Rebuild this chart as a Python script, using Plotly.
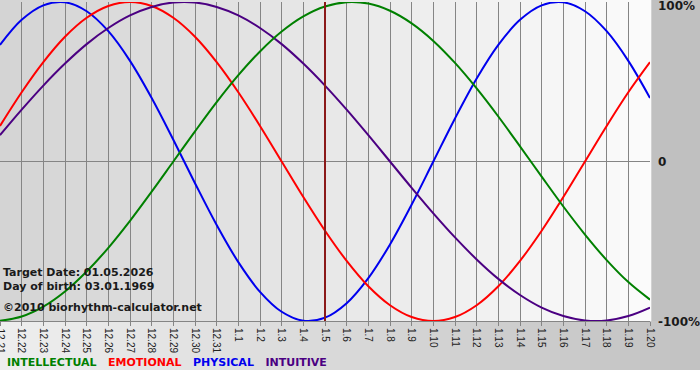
import plotly.graph_objects as go

# ---- data ----
days = ["12.21", "12.22", "12.23", "12.24", "12.25", "12.26", "12.27", "12.28", "12.29", "12.30", "12.31",
        "1.1", "1.2", "1.3", "1.4", "1.5", "1.6", "1.7", "1.8", "1.9", "1.10",
        "1.11", "1.12", "1.13", "1.14", "1.15", "1.16", "1.17", "1.18", "1.19", "1.20"]

physical = [0.731, 0.888, 0.979, 0.998, 0.942, 0.817, 0.631, 0.398, 0.136, -0.136, -0.398,
            -0.631, -0.817, -0.942, -0.998, -0.979, -0.888, -0.731, -0.520, -0.270, 0.000,
            0.270, 0.520, 0.731, 0.888, 0.979, 0.998, 0.942, 0.817, 0.631, 0.398]
emotional = [0.223, 0.434, 0.623, 0.782, 0.901, 0.975, 1.000, 0.975, 0.901, 0.782, 0.623,
             0.434, 0.223, 0.000, -0.223, -0.434, -0.623, -0.782, -0.901, -0.975, -1.000,
             -0.975, -0.901, -0.782, -0.623, -0.434, -0.223, 0.000, 0.223, 0.434, 0.623]
intellectual = [-0.999, -0.972, -0.910, -0.815, -0.690, -0.541, -0.372, -0.189, 0.000, 0.189, 0.372,
                0.541, 0.690, 0.815, 0.910, 0.972, 0.999, 0.990, 0.945, 0.866, 0.756,
                0.618, 0.458, 0.282, 0.095, -0.095, -0.282, -0.458, -0.618, -0.756, -0.866]
intuitive = [0.165, 0.325, 0.476, 0.614, 0.736, 0.837, 0.916, 0.969, 0.997, 0.997, 0.969,
             0.916, 0.837, 0.736, 0.614, 0.476, 0.325, 0.165, 0.000, -0.165, -0.325,
             -0.476, -0.614, -0.736, -0.837, -0.916, -0.969, -0.997, -0.997, -0.969, -0.916]

series_names = ["INTELLECTUAL", "EMOTIONAL", "PHYSICAL", "INTUITIVE"]
target_day = "1.5"
target_text = "Target Date: 01.05.2026"
birth_text = "Day of birth: 03.01.1969"
copyright_text = "©2010 biorhythm-calculator.net"
y_tick_vals = [1, 0, -1]
y_tick_text = ["100%", "0", "-100%"]

# ---- styles ----
colors = {"INTELLECTUAL": "#008000", "EMOTIONAL": "#ff0000",
          "PHYSICAL": "#0000ee", "INTUITIVE": "#4b0082"}
values = {"INTELLECTUAL": intellectual, "EMOTIONAL": emotional,
          "PHYSICAL": physical, "INTUITIVE": intuitive}
draw_order = ["PHYSICAL", "EMOTIONAL", "INTUITIVE", "INTELLECTUAL"]

W, H = 700, 380
ML, MR, MT, MB = 0, 50, 2, 59
PW, PH = W - ML - MR, H - MT - MB

def lerp_hex(c1, c2, t):
    a = [int(c1[i:i + 2], 16) for i in (1, 3, 5)]
    b = [int(c2[i:i + 2], 16) for i in (1, 3, 5)]
    return "#" + "".join(f"{round(a[k] + (b[k] - a[k]) * t):02x}" for k in range(3))

xidx = list(range(len(days)))

fig = go.Figure()
for name in draw_order:
    fig.add_trace(go.Scatter(
        x=xidx, y=values[name], mode="lines", name=name,
        line=dict(color=colors[name], width=2, shape="spline", smoothing=1.0),
        hoverinfo="skip"))

shapes = []
# right margin gray
shapes.append(dict(type="rect", xref="paper", yref="paper", x0=1, x1=W / PW, y0=0, y1=1 + MT / PH,
                   fillcolor="#c0c0c0", line_width=0, layer="below"))
# plot area gradient
n = 65
for k in range(n):
    shapes.append(dict(type="rect", xref="paper", yref="paper",
                       x0=k / n, x1=(k + 1) / n + 0.002, y0=0, y1=1 + MT / PH,
                       fillcolor=lerp_hex("#d4d4d4", "#fbfbfb", k / (n - 1)),
                       line_width=0, layer="below"))
# bottom band gradient
nb = 70
x_end = W / PW
band_bottom = -(370 - (H - MB)) / PH
for k in range(nb):
    shapes.append(dict(type="rect", xref="paper", yref="paper",
                       x0=x_end * k / nb, x1=x_end * (k + 1) / nb + 0.002, y0=band_bottom, y1=0,
                       fillcolor=lerp_hex("#eeeeee", "#c2c2c2", k / (nb - 1)),
                       line_width=0, layer="below"))
# target date line
ti = days.index(target_day)
shapes.append(dict(type="line", xref="x", yref="paper", x0=ti, x1=ti, y0=0, y1=1,
                   line=dict(color="#8b1a1a", width=2), layer="above"))

annotations = []
info_font = dict(family="DejaVu Sans", size=11, color="#1a1a1a")
for txt, py in [(target_text, (H - MB - 272) / PH), (birth_text, (H - MB - 286) / PH),
                (copyright_text, (H - MB - 307) / PH)]:
    annotations.append(dict(xref="paper", yref="paper", x=0, y=py, xanchor="left", yanchor="middle",
                            xshift=1, text=f"<b>{txt}</b>", showarrow=False, font=info_font))

for v, t in zip(y_tick_vals, y_tick_text):
    py = (v + 1) / 2
    shift = {1: -4, 0: 0, -1: -1}[v]
    annotations.append(dict(xref="paper", yref="paper", x=1, y=py, xanchor="left", yanchor="middle",
                            xshift=6, yshift=shift, text=f"<b>{t}</b>", showarrow=False,
                            font=dict(family="DejaVu Sans", size=12, color="#1a1a1a")))

# first day label, clipped at the left edge as in the reference
annotations.append(dict(xref="x", yref="paper", x=0, y=0, xanchor="center", yanchor="top",
                        yshift=-5, textangle=90, text=days[0], showarrow=False,
                        font=dict(family="Liberation Sans", size=10, color="#222222")))

legend_txt = "&nbsp;&nbsp;&nbsp;".join(
    f"<span style='color:{colors[nm]}'>{nm}</span>" for nm in series_names)
annotations.append(dict(xref="paper", yref="paper", x=0, y=(H - MB - 362) / PH, xanchor="left",
                        yanchor="middle", xshift=5, text=f"<b>{legend_txt}</b>", showarrow=False,
                        font=dict(family="DejaVu Sans", size=11)))

fig.update_layout(
    width=W, height=H, margin=dict(l=ML, r=MR, t=MT, b=MB, autoexpand=False),
    paper_bgcolor="#ffffff", plot_bgcolor="rgba(0,0,0,0)",
    showlegend=False, hovermode=False,
    shapes=shapes, annotations=annotations,
    xaxis=dict(range=[0, len(days) - 1], tickmode="array", tickvals=xidx, ticktext=days,
               showgrid=True, gridcolor="#858585",
               gridwidth=1, showline=True, linecolor="#858585", linewidth=1,
               ticks="outside", ticklen=4, tickcolor="#858585", tickangle=90,
               tickfont=dict(family="Liberation Sans", size=10, color="#222222"),
               zeroline=False, fixedrange=True, automargin=False),
    yaxis=dict(range=[-1, 1], showgrid=False, zeroline=True, zerolinecolor="#858585",
               zerolinewidth=1, showticklabels=False, ticks="", fixedrange=True, automargin=False),
)

fig.write_html("out.html")
